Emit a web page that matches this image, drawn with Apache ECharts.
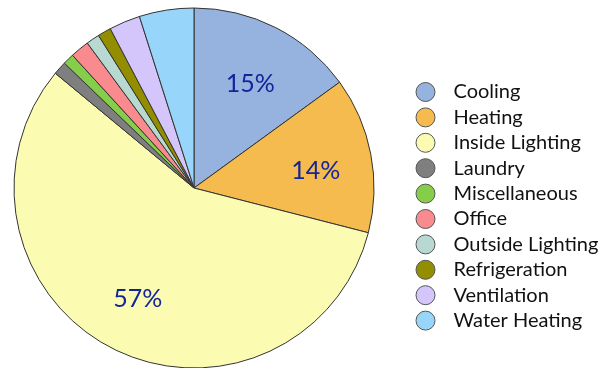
<!DOCTYPE html>
<html>
<head>
<meta charset="utf-8">
<script src="https://cdn.jsdelivr.net/npm/echarts@6/dist/echarts.min.js"></script>
<style>
  html, body { margin: 0; padding: 0; background: #ffffff; }
  #chart { width: 613px; height: 368px; }
</style>
</head>
<body>
<div id="chart"></div>
<script>
// Energy use by end use (percent of total)
const categories = [
  'Cooling', 'Heating', 'Inside Lighting', 'Laundry', 'Miscellaneous',
  'Office', 'Outside Lighting', 'Refrigeration', 'Ventilation', 'Water Heating'
];
const shares = [15, 14, 57, 1.2, 1.0, 1.7, 1.2, 1.2, 2.8, 4.9];
const colors = [
  '#95b3de', '#f5bb4f', '#fbfcb2', '#7f7f7f', '#86cd4a',
  '#f98a8e', '#b7d9d2', '#938e00', '#d4c6fb', '#97d5fb'
];
// only the three largest slices carry a percentage label
const labelled = ['Cooling', 'Heating', 'Inside Lighting'];
const labelNudge = { 'Cooling': [0, 6], 'Heating': [0, 6], 'Inside Lighting': [0, 0] };

const pieData = categories.map((name, i) => ({
  name: name,
  value: shares[i],
  itemStyle: { color: colors[i] }
}));

const labelData = categories.map((name, i) => ({
  name: name,
  value: shares[i],
  label: labelled.includes(name)
    ? { show: true, offset: labelNudge[name] }
    : { show: false }
}));

const chart = echarts.init(document.getElementById('chart'), null, { renderer: 'canvas' });

chart.setOption({
  animation: false,
  legend: {
    orient: 'vertical',
    left: 410.5,
    top: 77,
    icon: 'circle',
    itemWidth: 19,
    itemHeight: 19,
    itemGap: 5.4,
    data: categories,
    selectedMode: false,
    itemStyle: { borderColor: '#555555', borderWidth: 1 },
    textStyle: {
      fontFamily: 'Lato',
      fontSize: 20,
      lineHeight: 20,
      color: '#111111',
      padding: [0, 0, 0, 13.5]
    }
  },
  series: [
    {
      type: 'pie',
      center: [194, 188],
      radius: 180,
      startAngle: 90,
      clockwise: true,
      silent: true,
      label: { show: false },
      labelLine: { show: false },
      itemStyle: { borderColor: '#333333', borderWidth: 1 },
      data: pieData
    },
    {
      // transparent ring used only to place the percentage labels
      type: 'pie',
      center: [194, 188],
      radius: [62, 180],
      startAngle: 90,
      clockwise: true,
      silent: true,
      legendHoverLink: false,
      itemStyle: { color: 'rgba(0,0,0,0)', borderWidth: 0 },
      labelLine: { show: false },
      label: {
        position: 'inside',
        formatter: p => Math.round(p.percent) + '%',
        fontFamily: 'Lato',
        fontSize: 25,
        color: '#13259a'
      },
      data: labelData
    }
  ]
});
</script>
</body>
</html>
